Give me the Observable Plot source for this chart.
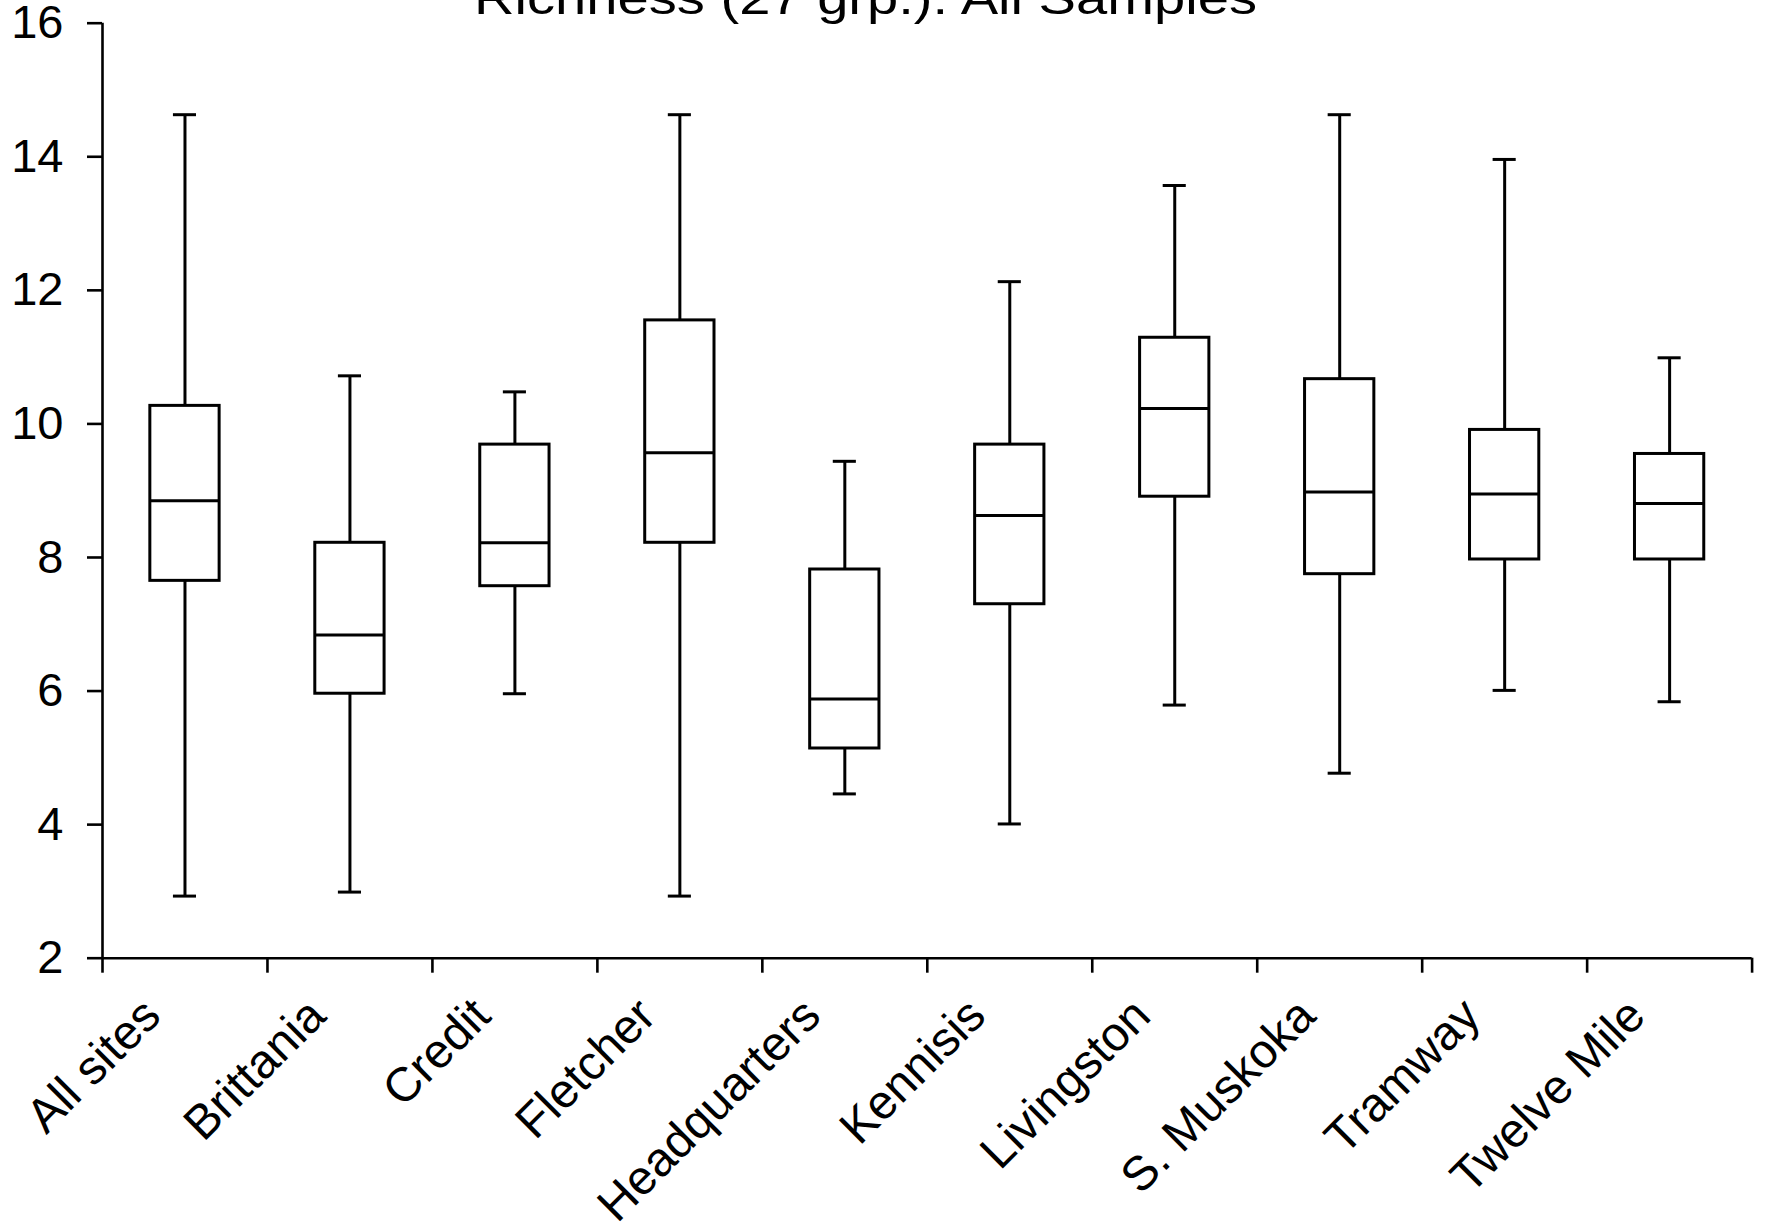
<!DOCTYPE html>
<html>
<head>
<meta charset="utf-8">
<script src="https://cdn.jsdelivr.net/npm/d3@7"></script>
<script src="https://cdn.jsdelivr.net/npm/@observablehq/plot@0.6"></script>
<style>
  html, body { margin: 0; padding: 0; background: white; overflow: hidden; }
  #wrap { position: relative; width: 1765px; height: 1223px; }
  #title {
    position: absolute; left: 0; top: -25px; width: 1731px; z-index: 2;
    text-align: center; font-family: "Liberation Sans", Arial, sans-serif;
    font-size: 46px; line-height: 46px; color: black; white-space: nowrap;
    transform: scaleX(1.22);
  }
  #chart svg [aria-label^="y-axis"] line, #chart svg [aria-label^="y-axis"] path,
  #chart svg [aria-label^="x-axis"] line, #chart svg [aria-label^="x-axis"] path { stroke-width: 2.6px; }
</style>
</head>
<body>
<div id="wrap">
  <div id="title">Richness (27 grp.): All Samples</div>
  <div id="chart"></div>
</div>
<script>
const sites = ["All sites", "Brittania", "Credit", "Fletcher", "Headquarters", "Kennisis", "Livingston", "S. Muskoka", "Tramway", "Twelve Mile"];
const whiskerLow  = [2.93, 2.99, 5.96, 2.93, 4.46, 4.01, 5.79, 4.77, 6.01, 5.84];
const q1          = [7.65, 5.96, 7.57, 8.22, 5.14, 7.30, 8.91, 7.75, 7.97, 7.97];
const median      = [8.85, 6.84, 8.22, 9.57, 5.88, 8.63, 10.23, 8.98, 8.95, 8.81];
const q3          = [10.27, 8.22, 9.69, 11.55, 7.82, 9.69, 11.29, 10.67, 9.91, 9.55];
const whiskerHigh = [14.63, 10.72, 10.48, 14.63, 9.44, 12.13, 13.57, 14.63, 13.96, 10.99];
const yTicks = [2, 4, 6, 8, 10, 12, 14, 16];

const rows = sites.map((s, i) => ({
  site: s, pos: i + 0.5,
  low: whiskerLow[i], q1: q1[i], med: median[i], q3: q3[i], high: whiskerHigh[i]
}));
const boundaries = d3.range(sites.length + 1);

const boxHalf = 0.21, capHalf = 0.07;
const lw = 3;

const chart = Plot.plot({
  width: 1765,
  height: 1223,
  marginTop: 22.7,
  marginBottom: 265.3,
  marginLeft: 102,
  marginRight: 13.4,
  style: { fontFamily: "Liberation Sans, Arial, sans-serif", fontSize: "47px", color: "black", background: "white", overflow: "visible" },
  x: { domain: [0, sites.length], ticks: boundaries, tickFormat: () => "", tickSize: 15, tickPadding: 0, label: null },
  y: { domain: [2, 16], ticks: yTicks, tickSize: 15, tickPadding: 24, label: null },
  marks: [
    Plot.ruleX(rows, { x: "pos", y1: "low", y2: "q1", stroke: "black", strokeWidth: lw }),
    Plot.ruleX(rows, { x: "pos", y1: "q3", y2: "high", stroke: "black", strokeWidth: lw }),
    Plot.ruleY(rows, { y: "low", x1: d => d.pos - capHalf, x2: d => d.pos + capHalf, stroke: "black", strokeWidth: lw }),
    Plot.ruleY(rows, { y: "high", x1: d => d.pos - capHalf, x2: d => d.pos + capHalf, stroke: "black", strokeWidth: lw }),
    Plot.rect(rows, { x1: d => d.pos - boxHalf, x2: d => d.pos + boxHalf, y1: "q1", y2: "q3", fill: "white", stroke: "black", strokeWidth: lw }),
    Plot.ruleY(rows, { y: "med", x1: d => d.pos - boxHalf, x2: d => d.pos + boxHalf, stroke: "black", strokeWidth: lw }),
    Plot.ruleX([0], { stroke: "black", strokeWidth: 2.6 }),
    Plot.ruleY([2], { stroke: "black", strokeWidth: 2.6 }),
    Plot.text(rows, {
      x: "pos", frameAnchor: "bottom", text: "site", rotate: -45, textAnchor: "end",
      lineAnchor: "top", dx: -46, dy: 36, fontSize: 48, fill: "black"
    })
  ]
});
document.getElementById("chart").appendChild(chart);
</script>
</body>
</html>
